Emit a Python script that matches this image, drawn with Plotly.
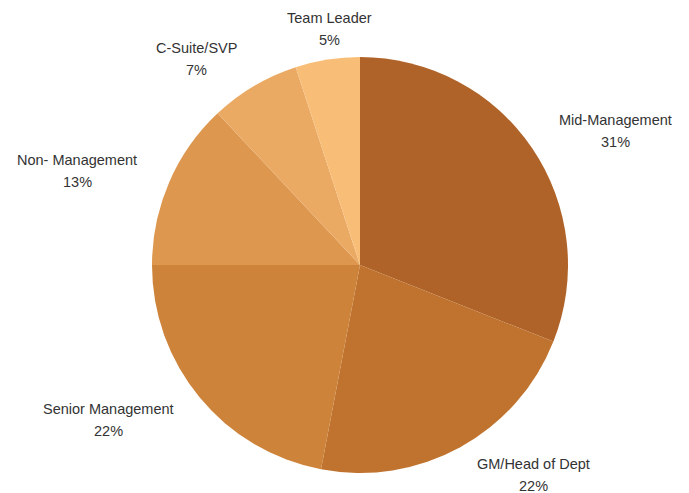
import plotly.graph_objects as go

categories = ["Mid-Management", "GM/Head of Dept", "Senior Management",
              "Non- Management", "C-Suite/SVP", "Team Leader"]
values = [31, 22, 22, 13, 7, 5]
colors = ["#B06328", "#C0732E", "#CD833A", "#DD974F", "#EBAA63", "#F8BE78"]

# label anchor positions in pixels of the screenshot (layout only)
label_pos = [(615, 120), (533, 464), (108, 409), (77, 160), (196, 48), (329, 18)]

W, H = 689, 493
OFF = 8  # page body margin
cx, cy, r = 360 - OFF, 265 - OFF, 208

fig = go.Figure(go.Pie(
    labels=categories, values=values, sort=False, direction="clockwise",
    rotation=0, marker=dict(colors=colors, line=dict(width=0)),
    textinfo="none", hoverinfo="label+percent",
    domain=dict(x=[(cx - r) / W, (cx + r) / W],
                y=[(H - cy - r) / H, (H - cy + r) / H]),
    showlegend=False,
))

font = dict(family="Liberation Sans, Arial", size=14.5, color="#333333")
annotations = []
for cat, val, (x, y) in zip(categories, values, label_pos):
    x -= OFF
    y -= OFF
    annotations.append(dict(x=x / W, y=1 - y / H, xref="paper", yref="paper",
                            xanchor="center", yanchor="middle",
                            text=cat, showarrow=False, font=font))
    annotations.append(dict(x=x / W, y=1 - (y + 22) / H, xref="paper", yref="paper",
                            xanchor="center", yanchor="middle",
                            text=f"{val}%", showarrow=False, font=font))

fig.update_layout(width=W, height=H, margin=dict(l=0, r=0, t=0, b=0),
                  paper_bgcolor="white", plot_bgcolor="white",
                  annotations=annotations)
fig.write_html("out.html")
